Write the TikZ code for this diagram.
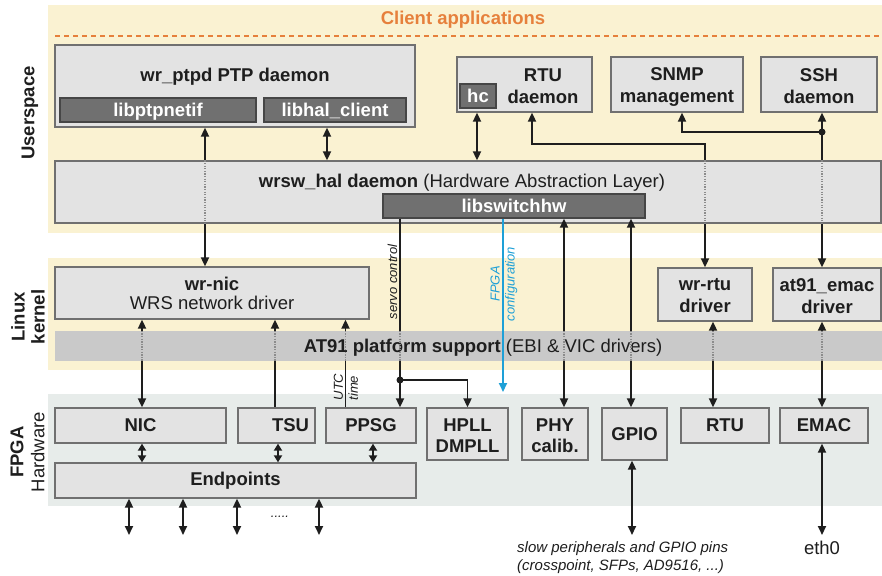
\documentclass[tikz,border=0pt]{standalone}
\usepackage{fontspec}
\setmainfont{Liberation Sans}
\usetikzlibrary{arrows.meta,calc}

\definecolor{bandY}{RGB}{250,242,210}
\definecolor{bandF}{RGB}{231,236,234}
\definecolor{boxc}{RGB}{227,227,227}
\definecolor{bordc}{RGB}{112,112,112}
\definecolor{libc}{RGB}{112,112,112}
\definecolor{libb}{RGB}{70,70,70}
\definecolor{at91c}{RGB}{201,201,201}
\definecolor{orng}{RGB}{230,128,60}
\definecolor{bluec}{RGB}{30,160,215}
\definecolor{txt}{RGB}{30,30,30}
\definecolor{dotc}{RGB}{140,140,140}

\begin{document}
\begin{tikzpicture}[x=1pt,y=-1pt,
 >={Triangle[length=9pt,width=8pt]},
 big/.style={font=\bfseries\fontsize{18.5}{22}\selectfont, text=txt, inner sep=0pt, align=center},
 reg/.style={font=\fontsize{18.5}{22}\selectfont, text=txt, inner sep=0pt, align=center},
 box/.style={draw=bordc, fill=boxc, line width=1.3pt, big},
 lib/.style={draw=libb, fill=libc, line width=1.3pt, inner sep=0pt, font=\bfseries\fontsize{18.5}{22}\selectfont, text=white, text height=13pt, text depth=0pt},
 conn/.style={draw=txt, line width=1.8pt},
 dotl/.style={draw=dotc, line width=1.3pt, dash pattern=on 1.3pt off 1.3pt},
 note/.style={font=\itshape\fontsize{13}{15}\selectfont, text=txt, inner sep=0pt, align=center},
 smalltip/.style={>={Triangle[length=7pt,width=8pt]}},
]
\useasboundingbox (0,0) rectangle (882,575);
\fill[white] (0,0) rectangle (882,575);
% bands
\fill[bandY] (48,5) rectangle (882,233);
\fill[bandY] (48,258) rectangle (882,370);
\fill[bandF] (48,394) rectangle (882,506);

% header
\node[font=\bfseries\fontsize{18.5}{22}\selectfont, text=orng, inner sep=0pt] (client) at (463,20) {Client applications};
\draw[orng, line width=1.5pt, dash pattern=on 5pt off 4pt] (55,36) -- (880,36);

% side labels
\node[big, rotate=90] (lu) at (30,113) {Userspace};
\node[big, rotate=90, font=\bfseries\fontsize{18.5}{20}\selectfont] (lk) at (28,317) {Linux\\kernel};
\node[reg, rotate=90, font=\fontsize{18.5}{21}\selectfont] (lf) at (27.5,452) {\textbf{FPGA}\\Hardware};

% userspace
\node[box, minimum width=360pt, minimum height=82pt] (ptpd) at (235,86) {};
\node[big] (ptpdt) at (235,76.5) {wr\_ptpd PTP daemon};
\node[lib, minimum width=196pt, minimum height=24pt] (libptp) at (158,110) {libptpnetif};
\node[lib, minimum width=142pt, minimum height=24pt] (libhalc) at (335,110) {libhal\_client};

\node[box, minimum width=826pt, minimum height=62pt] (hal) at (468,192) {};
\node[reg] (halt) at (462,182.5) {\textbf{wrsw\_hal daemon} (Hardware Abstraction Layer)};
\node[lib, minimum width=262pt, minimum height=24pt] (libsw) at (514,206) {libswitchhw};

\node[box, minimum width=135pt, minimum height=55pt] (rtud) at (524.5,84.5) {};
\node[big] (rtudt) at (543,86) {RTU\\daemon};
\node[lib, minimum width=36pt, minimum height=24pt] (hc) at (478,96) {hc};
\node[box, minimum width=132pt, minimum height=55pt] (snmp) at (677,84.5) {};
\node[big] (snmpt) at (677,87.5) {SNMP\\management};
\node[box, minimum width=116pt, minimum height=55pt] (ssh) at (819,84.5) {};
\node[big] (ssht) at (819,86) {SSH\\daemon};

% kernel
\node[box, minimum width=314pt, minimum height=52pt] (wrnic) at (212,293) {};
\node[big] (wrnict) at (212,284) {wr-nic};
\node[reg] (wrnict2) at (212,303) {WRS network driver};
\node[fill=at91c, minimum width=827pt, minimum height=30pt, inner sep=0pt] (at91) at (468.5,346) {};
\node[reg] (at91t) at (483,347.5) {\textbf{AT91 platform support} (EBI \& VIC drivers)};
\node[box, minimum width=94pt, minimum height=53pt] (wrrtu) at (705,294.5) {};
\node[big] (wrrtut) at (705,295.5) {wr-rtu\\driver};
\node[box, minimum width=108pt, minimum height=53pt] (emacd) at (827,294.5) {};
\node[big] (emacdt) at (827,296) {at91\_emac\\driver};

% FPGA
\node[box, minimum width=171pt, minimum height=35pt] (nic) at (140.5,425.5) {NIC};
\node[box, minimum width=77pt, minimum height=35pt] (tsu) at (276.5,425.5) {};
\node[big] (tsut) at (290.5,425.5) {TSU};
\node[box, minimum width=90pt, minimum height=35pt] (ppsg) at (371,425.5) {PPSG};
\node[box, minimum width=81pt, minimum height=52pt] (hpll) at (467.5,434) {};
\node[big, font=\bfseries\fontsize{18.5}{21}\selectfont] (hpllt) at (467.5,435.5) {HPLL\\DMPLL};
\node[box, minimum width=66pt, minimum height=52pt] (phy) at (555,434) {};
\node[big, font=\bfseries\fontsize{18.5}{21}\selectfont] (phyt) at (555,436) {PHY\\calib.};
\node[box, minimum width=65pt, minimum height=52pt] (gpio) at (634.5,434) {GPIO};
\node[box, minimum width=88pt, minimum height=35pt] (rtu) at (725,425.5) {RTU};
\node[box, minimum width=88pt, minimum height=35pt] (emac) at (824,425.5) {EMAC};
\node[box, minimum width=361pt, minimum height=35pt] (ends) at (235.5,480.5) {Endpoints};

% coordinates
\coordinate (xptp) at (205,0);
\coordinate (xhalc) at (327,0);
\coordinate (xhc) at (477,0);
\coordinate (xrtu) at (705,0);
\coordinate (rtubend) at (532,144);
\coordinate (xssh) at (822,0);
\coordinate (sshdot) at (822,132);
\coordinate (xsnmp) at (682,0);
\coordinate (xservo) at (400,0);
\coordinate (servodot) at (400,380);
\coordinate (xfpga) at (503,0);
\coordinate (fpgaend) at (503,392);
\coordinate (xphy) at (564,0);
\coordinate (xgpio) at (631,0);
\coordinate (xnic) at (142,0);
\coordinate (xtsu) at (275,0);
\coordinate (xutc) at (345.5,0);
\coordinate (xrtul) at (713,0);
\coordinate (xe1) at (278,0);
\coordinate (xe2) at (373,0);
\coordinate (ep1) at (129,535);
\coordinate (ep2) at (183,535);
\coordinate (ep3) at (237,535);
\coordinate (ep4) at (319,535);
\coordinate (gpioend) at (632,535);

% userspace connectors
\draw[conn,<-] (ptpd.south -| xptp) -- (hal.north -| xptp);
\draw[dotl] (hal.north -| xptp) -- (hal.south -| xptp);
\draw[conn,->] (hal.south -| xptp) -- (wrnic.north -| xptp);
\draw[conn,<->] (ptpd.south -| xhalc) -- (hal.north -| xhalc);
\draw[conn,<->] (rtud.south -| xhc) -- (hal.north -| xhc);
\draw[conn,->] (hal.north -| xrtu) |- (rtubend) -- (rtud.south -| rtubend);
\draw[dotl] (hal.north -| xrtu) -- (hal.south -| xrtu);
\draw[conn,->] (hal.south -| xrtu) -- (wrrtu.north -| xrtu);
\draw[conn,->] (hal.north -| xssh) -- (ssh.south -| xssh);
\draw[conn,->] (sshdot) -| (snmp.south -| xsnmp);
\fill[txt] (sshdot) circle (3.5pt);
\draw[dotl] (hal.north -| xssh) -- (hal.south -| xssh);
\draw[conn,->] (hal.south -| xssh) -- (emacd.north -| xssh);

% libswitchhw connectors
\draw[conn] (libsw.south -| xservo) -- (at91.north -| xservo);
\draw[dotl] (at91.north -| xservo) -- (at91.south -| xservo);
\draw[conn,->] (at91.south -| xservo) -- (ppsg.north -| xservo);
\draw[conn,->] (servodot) -| (hpll.north);
\fill[txt] (servodot) circle (3.5pt);
\draw[bluec, line width=1.8pt, ->] (libsw.south -| xfpga) -- (fpgaend);
\draw[conn,<-] (libsw.south -| xphy) -- (at91.north -| xphy);
\draw[dotl] (at91.north -| xphy) -- (at91.south -| xphy);
\draw[conn,->] (at91.south -| xphy) -- (phy.north -| xphy);
\draw[conn,<-] (libsw.south -| xgpio) -- (at91.north -| xgpio);
\draw[dotl] (at91.north -| xgpio) -- (at91.south -| xgpio);
\draw[conn,->] (at91.south -| xgpio) -- (gpio.north -| xgpio);

% kernel to FPGA
\draw[conn,<-] (wrnic.south -| xnic) -- (at91.north -| xnic);
\draw[dotl] (at91.north -| xnic) -- (at91.south -| xnic);
\draw[conn,->] (at91.south -| xnic) -- (nic.north -| xnic);
\draw[conn,<-] (wrnic.south -| xtsu) -- (at91.north -| xtsu);
\draw[dotl] (at91.north -| xtsu) -- (at91.south -| xtsu);
\draw[conn] (at91.south -| xtsu) -- (tsu.north -| xtsu);
\draw[conn,<-] (wrnic.south -| xutc) -- (at91.north -| xutc);
\draw[dotl] (at91.north -| xutc) -- (at91.south -| xutc);
\draw[conn] (at91.south -| xutc) -- (ppsg.north -| xutc);
\draw[conn,<-] (wrrtu.south -| xrtul) -- (at91.north -| xrtul);
\draw[dotl] (at91.north -| xrtul) -- (at91.south -| xrtul);
\draw[conn,->] (at91.south -| xrtul) -- (rtu.north -| xrtul);
\draw[conn,<-] (emacd.south -| xssh) -- (at91.north -| xssh);
\draw[dotl] (at91.north -| xssh) -- (at91.south -| xssh);
\draw[conn,->] (at91.south -| xssh) -- (emac.north -| xssh);

% FPGA internal
\draw[conn,smalltip,<->] (nic.south -| xnic) -- (ends.north -| xnic);
\draw[conn,smalltip,<->] (tsu.south -| xe1) -- (ends.north -| xe1);
\draw[conn,smalltip,<->] (ppsg.south -| xe2) -- (ends.north -| xe2);
\draw[conn,<->] (ends.south -| ep1) -- (ep1);
\draw[conn,<->] (ends.south -| ep2) -- (ep2);
\draw[conn,<->] (ends.south -| ep3) -- (ep3);
\draw[conn,<->] (ends.south -| ep4) -- (ep4);
\node[note] (dots) at (280,517) {.....};
\draw[conn,<->] (gpio.south -| gpioend) -- (gpioend);
\node[reg, inner ysep=6pt] (eth0) at (822,548) {eth0};
\draw[conn,<->] (emac.south -| xssh) -- (eth0.north);
\node[font=\itshape\fontsize{15}{18}\selectfont, text=txt, align=left, anchor=north west, inner sep=0pt] (slowt) at (517,541) {slow peripherals and GPIO pins\\(crosspoint, SFPs, AD9516, ...)};

% small labels
\node[note, rotate=90] (servot) at (392.5,282) {servo control};
\node[note, rotate=90, align=left] (utct) at (346,387) {UTC\\time};
\node[note, rotate=90, text=bluec] (fpgat) at (504,284) {FPGA\\configuration};
\end{tikzpicture}
\end{document}
